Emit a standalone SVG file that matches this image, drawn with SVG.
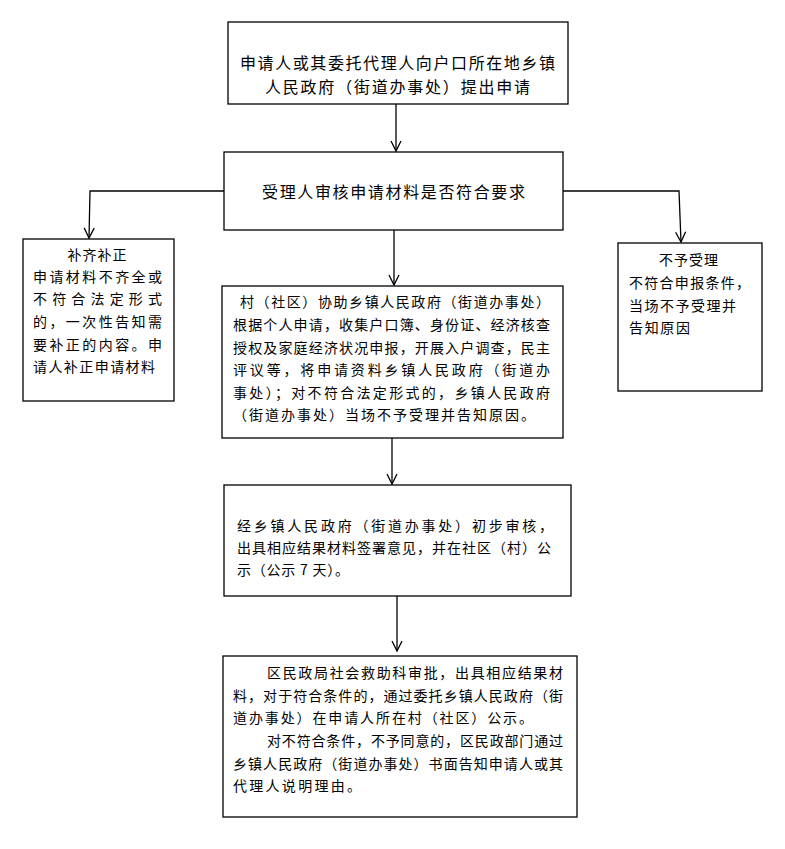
<svg xmlns="http://www.w3.org/2000/svg" width="785" height="849" viewBox="0 0 785 849">
<style>
  .box { fill: #ffffff; stroke: #000000; stroke-width: 1.3; }
  .conn { fill: none; stroke: #000000; stroke-width: 1.3; }
  text { font-family: "Noto Sans CJK SC", "Noto Sans", sans-serif; fill: #000000; }
  .t16 { font-size: 16px; }
  .t14 { font-size: 14px; }
</style>
<defs>
  <marker id="arr" markerUnits="userSpaceOnUse" viewBox="-1 -1 13 12" markerWidth="13" markerHeight="12" refX="10" refY="5" orient="auto" overflow="visible">
    <path d="M0,0 L10,5 L0,10" fill="none" stroke="#000000" stroke-width="1.3"/>
  </marker>
</defs>
<rect width="785" height="849" fill="#ffffff"/>

<g id="connectors">
  <line class="conn" x1="396" y1="104" x2="396" y2="151" marker-end="url(#arr)"/>
  <polyline class="conn" points="224,191 90,191 89,238" marker-end="url(#arr)"/>
  <polyline class="conn" points="563,191 679,191 681,242" marker-end="url(#arr)"/>
  <line class="conn" x1="394" y1="230" x2="394" y2="285" marker-end="url(#arr)"/>
  <line class="conn" x1="392" y1="438" x2="392" y2="484" marker-end="url(#arr)"/>
  <line class="conn" x1="397" y1="596" x2="397" y2="651" marker-end="url(#arr)"/>
</g>

<g id="node-apply">
  <rect class="box" x="228" y="22" width="340" height="82"/>
  <text class="t16" x="240" y="69" textLength="315" lengthAdjust="spacing">申请人或其委托代理人向户口所在地乡镇</text>
  <text class="t16" x="265" y="93" textLength="265" lengthAdjust="spacing">人民政府（街道办事处）提出申请</text>
</g>

<g id="node-review">
  <rect class="box" x="224" y="152" width="339" height="78"/>
  <text class="t16" x="262" y="198" textLength="263" lengthAdjust="spacing">受理人审核申请材料是否符合要求</text>
</g>

<g id="node-supplement">
  <rect class="box" x="23" y="239" width="151" height="162"/>
  <text class="t14" x="97.5" y="260" text-anchor="middle" letter-spacing="1">补齐补正</text>
  <text class="t14" x="33" y="282" textLength="129" lengthAdjust="spacing">申请材料不齐全或</text>
  <text class="t14" x="33" y="304" textLength="129" lengthAdjust="spacing">不符合法定形式</text>
  <text class="t14" x="33" y="327" textLength="129" lengthAdjust="spacing">的，一次性告知需</text>
  <text class="t14" x="33" y="350" textLength="129" lengthAdjust="spacing">要补正的内容。申</text>
  <text class="t14" x="33" y="372" textLength="122" lengthAdjust="spacing">请人补正申请材料</text>
</g>

<g id="node-reject">
  <rect class="box" x="618" y="243" width="144" height="148"/>
  <text class="t14" x="689" y="265" text-anchor="middle" letter-spacing="1">不予受理</text>
  <text class="t14" x="629" y="288" textLength="121" lengthAdjust="spacing">不符合申报条件，</text>
  <text class="t14" x="629" y="311" textLength="107" lengthAdjust="spacing">当场不予受理并</text>
  <text class="t14" x="629" y="333" textLength="61" lengthAdjust="spacing">告知原因</text>
</g>

<g id="node-village">
  <rect class="box" x="222" y="286" width="341" height="152"/>
  <text class="t14" x="240" y="307" textLength="310" lengthAdjust="spacing">村（社区）协助乡镇人民政府（街道办事处）</text>
  <text class="t14" x="233" y="330" textLength="317" lengthAdjust="spacing">根据个人申请，收集户口簿、身份证、经济核查</text>
  <text class="t14" x="233" y="353" textLength="317" lengthAdjust="spacing">授权及家庭经济状况申报，开展入户调查，民主</text>
  <text class="t14" x="233" y="375" textLength="317" lengthAdjust="spacing">评议等，将申请资料乡镇人民政府（街道办</text>
  <text class="t14" x="233" y="398" textLength="317" lengthAdjust="spacing">事处）；对不符合法定形式的，乡镇人民政府</text>
  <text class="t14" x="233" y="420" textLength="302" lengthAdjust="spacing">（街道办事处）当场不予受理并告知原因。</text>
</g>

<g id="node-town">
  <rect class="box" x="224" y="485" width="347" height="111"/>
  <text class="t14" x="237" y="531" textLength="316" lengthAdjust="spacing">经乡镇人民政府（街道办事处）初步审核，</text>
  <text class="t14" x="237" y="553" textLength="314" lengthAdjust="spacing">出具相应结果材料签署意见，并在社区（村）公</text>
  <text class="t14" x="237" y="575" textLength="112" lengthAdjust="spacing">示（公示 7 天）。</text>
</g>

<g id="node-district">
  <rect class="box" x="223" y="656" width="354" height="161"/>
  <text class="t14" x="267" y="678" textLength="296" lengthAdjust="spacing">区民政局社会救助科审批，出具相应结果材</text>
  <text class="t14" x="233" y="701" textLength="330" lengthAdjust="spacing">料，对于符合条件的，通过委托乡镇人民政府（街</text>
  <text class="t14" x="233" y="723" textLength="300" lengthAdjust="spacing">道办事处）在申请人所在村（社区）公示。</text>
  <text class="t14" x="267" y="746" textLength="296" lengthAdjust="spacing">对不符合条件，不予同意的，区民政部门通过</text>
  <text class="t14" x="233" y="769" textLength="330" lengthAdjust="spacing">乡镇人民政府（街道办事处）书面告知申请人或其</text>
  <text class="t14" x="233" y="791" textLength="128" lengthAdjust="spacing">代理人说明理由。</text>
</g>
</svg>
